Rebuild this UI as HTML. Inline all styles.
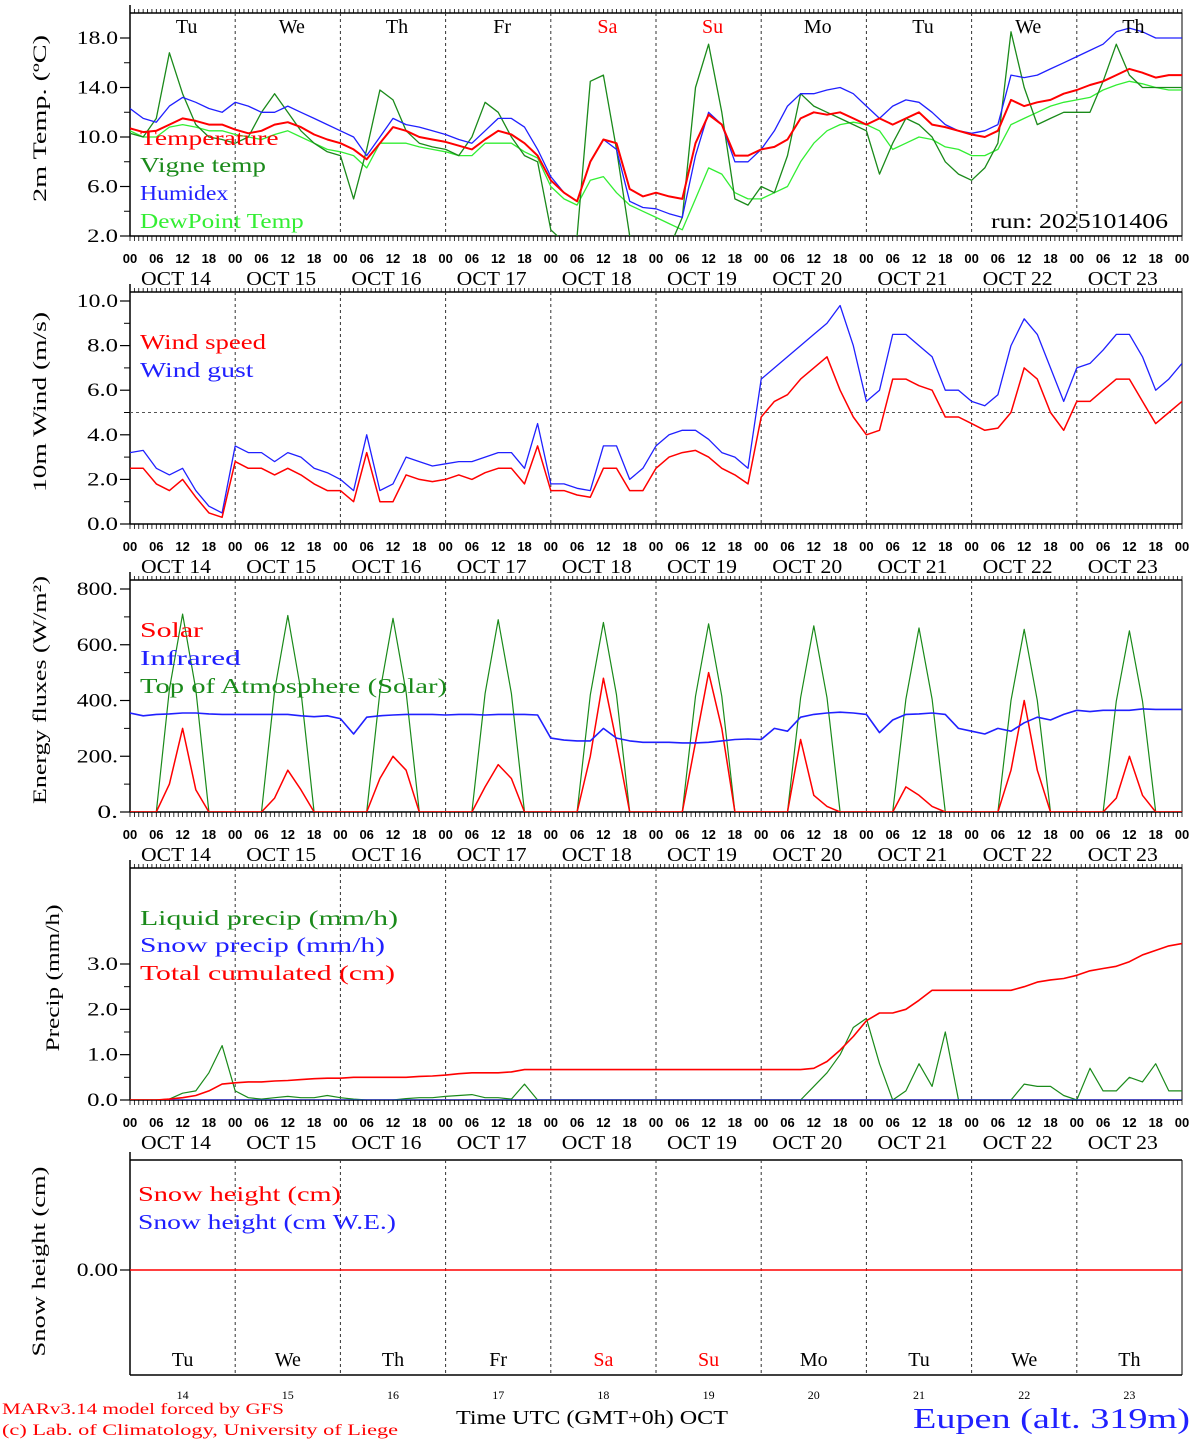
<!DOCTYPE html>
<html><head><meta charset="utf-8"><style>
body{margin:0;background:#fff;}
svg{display:block;}
text{font-family:"Liberation Serif","DejaVu Serif",serif;}
text.sans{font-family:"Liberation Sans","DejaVu Sans",sans-serif;}
</style></head><body>
<svg id="c" width="1194" height="1440" xmlns="http://www.w3.org/2000/svg"></svg>
<script>
// ---- data (3-hourly, hours 0..240) ----
const days=['OCT 14','OCT 15','OCT 16','OCT 17','OCT 18','OCT 19','OCT 20','OCT 21','OCT 22','OCT 23'];
const weekdays=['Tu','We','Th','Fr','Sa','Su','Mo','Tu','We','Th'];
const dayNums=['14','15','16','17','18','19','20','21','22','23'];
const hourTicks=['00','06','12','18'];
const tempTicks=[2,6,10,14,18];
const windTicks=[0,2,4,6,8,10];
const energyTicks=[0,200,400,600,800];
const precipTicks=[0,1,2,3];
const temperature=[10.7,10.4,10.5,11.0,11.5,11.3,11.0,11.0, 10.6,10.3,10.5,11.0,11.2,10.8,10.2,9.8, 9.5,9.0,8.2,9.5,10.8,10.5,10.0,9.8, 9.6,9.3,9.0,9.8,10.5,10.2,9.5,8.5, 6.5,5.5,4.8,8.0,9.8,9.5,5.8,5.2, 5.5,5.2,5.0,9.5,11.8,11.0,8.5,8.5, 9.0,9.2,9.8,11.5,12.0,11.8,12.0,11.5, 11.0,11.5,11.0,11.5,12.0,11.0,10.8,10.5, 10.2,10.0,10.5,13.0,12.5,12.8,13.0,13.5, 13.8,14.2,14.5,15.0,15.5,15.2,14.8,15.0,15.0];
const vigneTemp=[10.3,10.0,11.5,16.8,13.5,11.0,10.0,9.8, 9.5,10.0,12.0,13.5,12.0,10.5,9.5,8.8, 8.5,5.0,9.0,13.8,13.0,10.5,9.5,9.2, 9.0,8.5,10.0,12.8,12.0,10.0,8.5,8.0, 2.5,1.5,2.0,14.5,15.0,9.0,2.0,1.5, 1.5,1.0,3.5,14.0,17.5,12.0,5.0,4.5, 6.0,5.5,8.5,13.5,12.5,12.0,11.5,11.0, 10.5,7.0,9.5,11.5,11.0,10.0,8.0,7.0, 6.5,7.5,9.5,18.5,14.0,11.0,11.5,12.0, 12.0,12.0,14.5,17.5,15.0,14.0,14.0,14.0,14.0];
const humidex=[12.3,11.5,11.2,12.5,13.2,12.8,12.3,12.0, 12.8,12.5,12.0,12.0,12.5,12.0,11.5,11.0, 10.5,10.0,8.5,10.0,11.5,11.0,10.8,10.5, 10.2,9.8,9.5,10.5,11.5,11.5,10.8,9.0, 6.8,5.5,4.8,8.0,9.8,9.0,4.8,4.3, 4.2,3.8,3.5,8.5,12.0,11.0,8.0,8.0, 9.0,10.5,12.5,13.5,13.5,13.8,14.0,13.5, 12.5,11.5,12.5,13.0,12.8,12.0,11.0,10.5, 10.3,10.5,11.0,15.0,14.8,15.0,15.5,16.0, 16.5,17.0,17.5,18.5,18.8,18.5,18.0,18.0,18.0];
const dewPoint=[10.5,10.0,10.0,10.8,11.0,10.8,10.5,10.5, 10.2,10.0,9.8,10.2,10.5,10.0,9.5,9.0, 8.8,8.5,7.5,9.5,9.5,9.5,9.2,9.0, 8.8,8.5,8.5,9.5,9.5,9.5,8.8,8.3, 6.0,5.0,4.5,6.5,6.8,5.5,4.5,4.0, 3.5,3.0,2.5,5.0,7.5,7.0,5.5,5.0, 5.0,5.5,6.0,8.0,9.5,10.5,11.0,11.2, 11.0,10.5,9.0,9.5,10.0,9.8,9.2,9.0, 8.5,8.5,9.0,11.0,11.5,12.0,12.5,12.8, 13.0,13.2,13.8,14.2,14.5,14.3,14.0,13.8,13.8];
const windSpeed=[2.5,2.5,1.8,1.5,2.0,1.2,0.5,0.3, 2.8,2.5,2.5,2.2,2.5,2.2,1.8,1.5, 1.5,1.0,3.2,1.0,1.0,2.2,2.0,1.9, 2.0,2.2,2.0,2.3,2.5,2.5,1.8,3.5, 1.5,1.5,1.3,1.2,2.5,2.5,1.5,1.5, 2.5,3.0,3.2,3.3,3.0,2.5,2.2,1.8, 4.8,5.5,5.8,6.5,7.0,7.5,6.0,4.8, 4.0,4.2,6.5,6.5,6.2,6.0,4.8,4.8, 4.5,4.2,4.3,5.0,7.0,6.5,5.0,4.2, 5.5,5.5,6.0,6.5,6.5,5.5,4.5,5.0,5.5];
const windGust=[3.2,3.3,2.5,2.2,2.5,1.5,0.8,0.5, 3.5,3.2,3.2,2.8,3.2,3.0,2.5,2.3, 2.0,1.5,4.0,1.5,1.8,3.0,2.8,2.6, 2.7,2.8,2.8,3.0,3.2,3.2,2.5,4.5, 1.8,1.8,1.6,1.5,3.5,3.5,2.0,2.5, 3.5,4.0,4.2,4.2,3.8,3.2,3.0,2.5, 6.5,7.0,7.5,8.0,8.5,9.0,9.8,8.0, 5.5,6.0,8.5,8.5,8.0,7.5,6.0,6.0, 5.5,5.3,5.8,8.0,9.2,8.5,7.0,5.5, 7.0,7.2,7.8,8.5,8.5,7.5,6.0,6.5,7.2];
const solar=[0,0,0,100,300,80,0,0, 0,0,0,50,150,80,0,0, 0,0,0,120,200,150,0,0, 0,0,0,90,170,120,0,0, 0,0,0,200,480,250,0,0, 0,0,0,250,500,300,0,0, 0,0,0,260,60,20,0,0, 0,0,0,90,60,20,0,0, 0,0,0,150,400,150,0,0, 0,0,0,50,200,60,0,0,0];
const infrared=[355,345,350,352,355,355,352,350, 350,350,350,350,350,345,342,345, 335,280,340,345,348,350,350,350, 348,350,350,348,350,350,350,348, 265,258,255,255,300,265,255,250, 250,250,248,248,250,255,260,262, 260,300,290,340,350,355,358,355, 350,285,330,350,352,355,350,300, 290,280,300,290,320,340,330,350, 365,360,365,365,365,370,368,368,368];
const toaSolar=[0,0,0,440,710,440,0,0, 0,0,0,435,705,435,0,0, 0,0,0,430,695,430,0,0, 0,0,0,425,690,425,0,0, 0,0,0,420,680,420,0,0, 0,0,0,415,675,415,0,0, 0,0,0,410,668,410,0,0, 0,0,0,405,660,405,0,0, 0,0,0,400,655,400,0,0, 0,0,0,398,650,398,0,0,0];
const liquidPrecip=[0,0,0,0.02,0.15,0.2,0.6,1.2, 0.2,0.05,0.02,0.05,0.08,0.05,0.05,0.1, 0.05,0.02,0,0,0,0.03,0.05,0.05, 0.08,0.1,0.12,0.05,0.05,0.02,0.35,0, 0,0,0,0,0,0,0,0, 0,0,0,0,0,0,0,0, 0,0,0,0,0.3,0.6,1.0,1.6, 1.8,0.8,0,0.2,0.8,0.3,1.5,0, 0,0,0,0,0.35,0.3,0.3,0.1, 0,0.7,0.2,0.2,0.5,0.4,0.8,0.2,0.2];
const snowPrecip=new Array(81).fill(0);
const totalCum=[0,0,0,0.02,0.05,0.1,0.2,0.35, 0.38,0.4,0.4,0.42,0.43,0.45,0.47,0.48, 0.48,0.5,0.5,0.5,0.5,0.5,0.52,0.53, 0.55,0.58,0.6,0.6,0.6,0.62,0.67,0.67, 0.67,0.67,0.67,0.67,0.67,0.67,0.67,0.67, 0.67,0.67,0.67,0.67,0.67,0.67,0.67,0.67, 0.67,0.67,0.67,0.67,0.7,0.85,1.1,1.4, 1.75,1.92,1.92,2.0,2.2,2.42,2.42,2.42, 2.42,2.42,2.42,2.42,2.5,2.6,2.65,2.68, 2.75,2.85,2.9,2.95,3.05,3.2,3.3,3.4,3.45];
const snowHeight=new Array(81).fill(0);

// ---- layout ----
const NS='http://www.w3.org/2000/svg';
const svg=document.getElementById('c');
const X0=130,X1=1182;
function xh(h){return X0+h*(X1-X0)/240;}
function lin(v0,p0,v1,p1){return v=>p0+(v-v0)*(p1-p0)/(v1-v0);}
function el(tag,attrs,parent){const e=document.createElementNS(NS,tag);for(const k in attrs)e.setAttribute(k,attrs[k]);(parent||svg).appendChild(e);return e;}
function txt(x,y,s,size,fill,anchor,len){const t=el('text',{x:x,y:y,'font-size':size,fill:fill||'#000','text-anchor':anchor||'start'});if(len){t.setAttribute('textLength',len);t.setAttribute('lengthAdjust','spacingAndGlyphs');}t.textContent=s;return t;}

const panels=[
 {id:'temp',top:13,bot:236,y:lin(2,236,18,38),ticks:tempTicks,fmt:v=>v.toFixed(1),title:'2m Temp. (ºC)',tx:52,tl:167,minor:1},
 {id:'wind',top:292,bot:524,y:lin(0,524,10,301),ticks:windTicks,fmt:v=>v.toFixed(1),title:'10m Wind (m/s)',tx:52,tl:180,minor:1},
 {id:'energy',top:580,bot:812,y:lin(0,812,800,589),ticks:energyTicks,fmt:v=>v+'.',title:'Energy fluxes (W/m²)',tx:52,tl:228,minor:50},
 {id:'precip',top:868,bot:1100,y:lin(0,1100,3,964),ticks:precipTicks,fmt:v=>v.toFixed(1),title:'Precip (mm/h)',tx:65,tl:147,minor:0.25},
 {id:'snow',top:1160,bot:1375,y:lin(0,1270,1,1220),ticks:[0],fmt:v=>v.toFixed(2),title:'Snow height (cm)',tx:51,tl:190,minor:0}
];

panels.forEach((p,pi)=>{
 const g=el('g',{});
 
 
 const cp=el('clipPath',{id:'cp'+pi},g);
 el('rect',{x:X0,y:p.top,width:X1-X0,height:p.bot-p.top},cp);
 el('line',{x1:X0,y1:p.top,x2:X1,y2:p.top,stroke:'#000','stroke-width':1.5},g);
 el('line',{x1:X0,y1:p.bot,x2:X1,y2:p.bot,stroke:'#000','stroke-width':1.5},g);
 el('line',{x1:X0,y1:p.top-8,x2:X0,y2:p.bot,stroke:'#000','stroke-width':1.5},g);
 el('line',{x1:X1,y1:p.top,x2:X1,y2:p.bot,stroke:'#000','stroke-width':1},g);
 if(pi<4){for(let h=0;h<=240;h++){const x=xh(h);
   el('line',{x1:x,y1:p.top-4,x2:x,y2:p.top,stroke:'#000','stroke-width':0.8},g);
   el('line',{x1:x,y1:p.bot,x2:x,y2:p.bot+5,stroke:'#000','stroke-width':0.8},g);}}
 for(let d=1;d<10;d++){el('line',{x1:xh(d*24),y1:p.top,x2:xh(d*24),y2:p.bot,stroke:'#333','stroke-width':1,'stroke-dasharray':'3,3'},g);}
 p.ticks.forEach(v=>{const y=p.y(v);
   el('line',{x1:X0-10,y1:y,x2:X0,y2:y,stroke:'#000','stroke-width':1.2},g);
   const s=p.fmt(v);
   const t=txt(X0-12,y+6,s,19,'#000','end',s.length*10.3);
   
   
 });
 if(p.minor){const a=p.ticks[0],b=p.ticks[p.ticks.length-1];const step=(p.ticks[1]-p.ticks[0])/2;
   for(let v=a+step;v<b;v+=2*step){el('line',{x1:X0-6,y1:p.y(v),x2:X0,y2:p.y(v),stroke:'#000','stroke-width':1},g);}}
 const cy=(p.top+p.bot)/2;
 const yt=txt(p.tx,cy,p.title,19,'#000','middle',p.tl);
 yt.setAttribute('transform','rotate(-90 '+(p.tx-6)+' '+cy+')');
 
 
 if(pi<4){
   for(let d=0;d<=10;d++){for(let k=0;k<4;k++){if(d==10&&k>0)break;
     const t=el('text',{x:xh(d*24+k*6),y:p.bot+27,'font-size':13,'text-anchor':'middle','class':'sans','font-weight':'bold'},g);
     t.textContent=hourTicks[k];}}
   days.forEach((s,d)=>{const t=txt(xh(d*24+10.5),p.bot+49,s,20,'#000','middle',70);
     
     });
 }
 p.g=g;p.cp='url(#cp'+pi+')';
});
el('line',{x1:X0,y1:panels[1].y(5),x2:X1,y2:panels[1].y(5),stroke:'#555','stroke-width':1,'stroke-dasharray':'3,3'});

function series(p,arr,color,w,name){
 const pts=arr.map((v,i)=>xh(i*3).toFixed(1)+','+p.y(v).toFixed(1)).join(' ');
 const pl=el('polyline',{points:pts,fill:'none',stroke:color,'stroke-width':w,'clip-path':p.cp,'stroke-linejoin':'round'});
 
 
}
const P=panels;
series(P[0],dewPoint,'#33ee33',1.3,'dewpoint-line');
series(P[0],vigneTemp,'#1a8a1a',1.3,'vigne-temp-line');
series(P[0],humidex,'#2020ff',1.3,'humidex-line');
series(P[0],temperature,'#ff0000',2,'temperature-line');
series(P[1],windGust,'#2020ff',1.3,'wind-gust-line');
series(P[1],windSpeed,'#ff0000',1.5,'wind-speed-line');
series(P[2],toaSolar,'#1a8a1a',1.2,'toa-solar-line');
series(P[2],solar,'#ff0000',1.5,'solar-line');
series(P[2],infrared,'#2020ff',1.6,'infrared-line');
series(P[3],liquidPrecip,'#1a8a1a',1.2,'liquid-precip-line');
series(P[3],snowPrecip,'#2020ff',1,'snow-precip-line');
series(P[3],totalCum,'#ff0000',1.6,'total-cumulated-line');
series(P[4],snowHeight,'#ff0000',1.5,'snow-height-line');

function legend(x,y,s,c,name,len){const t=txt(x,y,s,21,c,'start',len||s.length*12.6);
 
 }
legend(140,145,'Temperature','#ff0000','legend-temperature');
legend(140,172,'Vigne temp','#1a8a1a','legend-vigne-temp');
legend(140,200,'Humidex','#2020ff','legend-humidex');
legend(140,228,'DewPoint Temp','#33ee33','legend-dewpoint');
legend(991,228,'run: 2025101406','#000','run-label',177);
legend(140,349,'Wind speed','#ff0000','legend-wind-speed');
legend(140,377,'Wind gust','#2020ff','legend-wind-gust');
legend(140,637,'Solar','#ff0000','legend-solar');
legend(140,665,'Infrared','#2020ff','legend-infrared');
legend(140,693,'Top of Atmosphere (Solar)','#1a8a1a','legend-toa',307);
legend(140,925,'Liquid precip (mm/h)','#1a8a1a','legend-liquid-precip',258);
legend(140,952,'Snow precip (mm/h)','#2020ff','legend-snow-precip',245);
legend(140,980,'Total cumulated (cm)','#ff0000','legend-total-cumulated',255);
legend(138,1201,'Snow height (cm)','#ff0000','legend-snow-height',203);
legend(138,1229,'Snow height (cm W.E.)','#2020ff','legend-snow-we',258);

weekdays.forEach((s,d)=>{
 const c=(s=='Sa'||s=='Su')?'#ff0000':'#000';
 const t=txt(xh(d*24+12)+4,33,s,20,c,'middle');
 
 
 const b=txt(xh(d*24+12),1366,s,20,c,'middle');
 
 
 const n=txt(xh(d*24+12),1399,dayNums[d],12,'#000','middle');
 
 
});
const f1=txt(2,1414,'MARv3.14 model forced by GFS',16,'#ff0000','start',282);


const f2=txt(2,1435,'(c) Lab. of Climatology, University of Liege',16,'#ff0000','start',396);


const xt=txt(456,1424,'Time UTC (GMT+0h) OCT',20,'#000','start',272);


const st=txt(1190,1428,'Eupen (alt. 319m)',29,'#2020ff','end',277);


</script>
</body></html>
